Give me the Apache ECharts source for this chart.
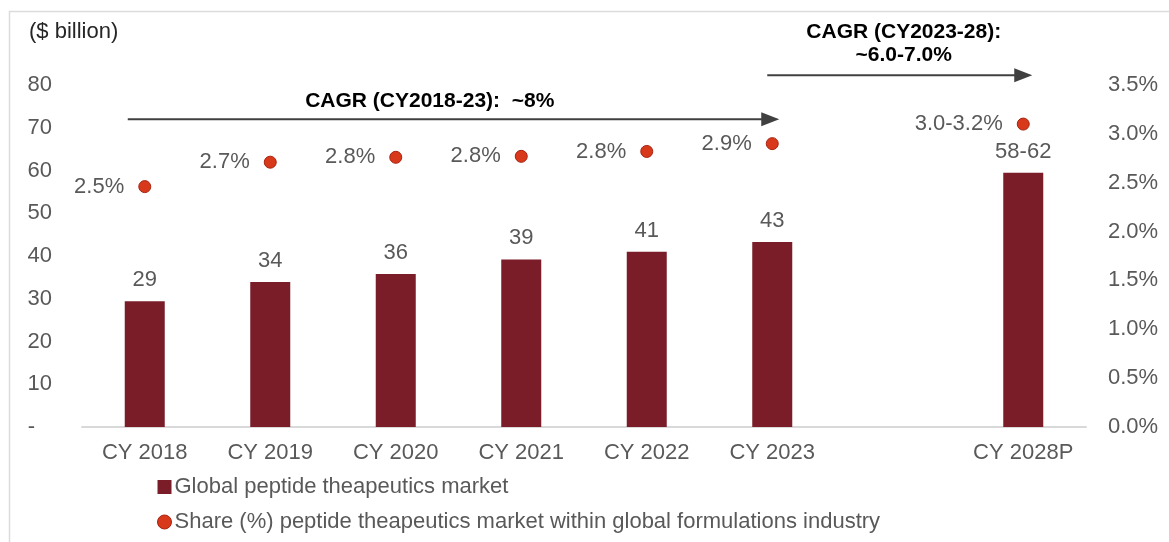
<!DOCTYPE html>
<html>
<head>
<meta charset="utf-8">
<script src="https://cdn.jsdelivr.net/npm/echarts@6/dist/echarts.min.js"></script>
<style>
  html, body { margin: 0; padding: 0; background: #ffffff; }
  #chart { width: 1169px; height: 542px; }
</style>
</head>
<body>
<div id="chart"></div>
<script>
// Calendar years; the blank slot separates actuals from the projection
const categories = ['CY 2018', 'CY 2019', 'CY 2020', 'CY 2021', 'CY 2022', 'CY 2023', '', 'CY 2028P'];

// Global peptide therapeutics market, $ billion
const marketValues = [29.4, 33.9, 35.8, 39.2, 41.0, 43.3, null, 59.5];

// Share (%) of the peptide market within the global formulations industry
const shareValues = [2.46, 2.71, 2.76, 2.77, 2.82, 2.90, null, 3.1];

// Projection year is labelled with ranges
const projectedIndex = 7;
const projectedMarketLabel = '58-62';
const projectedShareLabel = '3.0-3.2%';

// Axis ranges
const leftAxisMax = 80, leftAxisStep = 10;
const rightAxisMax = 3.5, rightAxisStep = 0.5;

// CAGR annotations
const cagrHistText = 'CAGR (CY2018-23):  ~8%';
const cagrProjText = 'CAGR (CY2023-28):\n~6.0-7.0%';

const FONT = '"Liberation Sans", Arial, sans-serif';
const BAR = '#7a1d29';
const DOT = '#d8391a';
const DOT_EDGE = '#a8220f';
const GREY_TEXT = '#595959';
const ARROW = '#404040';

const chart = echarts.init(document.getElementById('chart'), null, { renderer: 'canvas' });

const option = {
  animation: false,
  backgroundColor: '#ffffff',
  textStyle: { fontFamily: FONT },
  grid: { left: 82, right: 83, top: 85, bottom: 115, containLabel: false },
  legend: {
    orient: 'vertical',
    left: 152,
    top: 471,
    itemWidth: 14,
    itemHeight: 14,
    itemGap: 13,
    textStyle: { fontFamily: FONT, fontSize: 22, color: GREY_TEXT, padding: [0, 0, 0, -2] },
    data: [
      { name: 'Global peptide theapeutics market', icon: 'rect' },
      { name: 'Share (%) peptide theapeutics market within global formulations industry', icon: 'circle',
        itemStyle: { color: DOT, borderColor: DOT_EDGE, borderWidth: 1 } }
    ]
  },
  xAxis: {
    type: 'category',
    data: categories,
    axisLine: { lineStyle: { color: '#d9d9d9', width: 2 } },
    axisTick: { show: false },
    axisLabel: { color: GREY_TEXT, fontSize: 22, fontFamily: FONT, margin: 15, interval: 0 }
  },
  yAxis: [
    {
      type: 'value',
      min: 0, max: leftAxisMax, interval: leftAxisStep,
      name: '($ billion)',
      nameLocation: 'end',
      nameGap: 0,
      nameTextStyle: { color: '#262626', fontSize: 22, fontFamily: FONT, align: 'left', padding: [0, 0, 42, -53] },
      axisLine: { show: false },
      axisTick: { show: false },
      splitLine: { show: false },
      axisLabel: {
        color: GREY_TEXT, fontSize: 22, fontFamily: FONT, margin: 30,
        formatter: v => v === 0 ? '{d|-}' : String(v),
        rich: { d: { color: GREY_TEXT, fontSize: 22, fontFamily: FONT, padding: [0, 17, 0, 0] } }
      }
    },
    {
      type: 'value',
      min: 0, max: rightAxisMax, interval: rightAxisStep,
      position: 'right',
      axisLine: { show: false },
      axisTick: { show: false },
      splitLine: { show: false },
      axisLabel: {
        color: GREY_TEXT, fontSize: 22, fontFamily: FONT, margin: 22,
        formatter: v => v.toFixed(1) + '%'
      }
    }
  ],
  series: [
    {
      name: 'Global peptide theapeutics market',
      type: 'bar',
      yAxisIndex: 0,
      barWidth: 40,
      data: marketValues.map(v => v === null ? '-' : v),
      itemStyle: { color: BAR },
      label: {
        show: true,
        position: 'top',
        distance: 10,
        color: GREY_TEXT,
        fontSize: 22,
        fontFamily: FONT,
        formatter: p => p.dataIndex === projectedIndex ? projectedMarketLabel : String(Math.round(p.value))
      }
    },
    {
      name: 'Share (%) peptide theapeutics market within global formulations industry',
      type: 'scatter',
      yAxisIndex: 1,
      symbol: 'circle',
      symbolSize: 12,
      data: shareValues.map(v => v === null ? '-' : v),
      itemStyle: { color: DOT, borderColor: DOT_EDGE, borderWidth: 1, opacity: 1 },
      label: {
        show: true,
        position: 'left',
        distance: 14,
        color: GREY_TEXT,
        fontSize: 22,
        fontFamily: FONT,
        formatter: p => p.dataIndex === projectedIndex ? projectedShareLabel : Number(p.value).toFixed(1) + '%'
      }
    }
  ]
};

chart.setOption(option);

// Arrows anchored to category centres and left-axis values
function toPx(idx, val) {
  return chart.convertToPixel({ seriesIndex: 0 }, [idx, val]);
}

function arrow(x1, x2, y) {
  return [
    { type: 'line', silent: true,
      shape: { x1: x1, y1: y, x2: x2 - 14, y2: y },
      style: { stroke: ARROW, lineWidth: 2 } },
    { type: 'polygon', silent: true,
      shape: { points: [[x2 - 18, y - 7], [x2, y], [x2 - 18, y + 7]] },
      style: { fill: ARROW } }
  ];
}

const h0 = toPx(0, 72), h5 = toPx(5, 72);
const histStart = h0[0] - 17, histEnd = h5[0] + 7, histY = h0[1];

const p5 = toPx(5, 82.3), p7 = toPx(7, 82.3);
const projStart = p5[0] - 5, projEnd = p7[0] + 9, projY = p5[1];

const graphics = [
  // thin frame around the exhibit
  { type: 'rect', silent: true, z: -1,
    shape: { x: 9.5, y: 11.5, width: 1200, height: 600 },
    style: { fill: null, stroke: '#dcdcdc', lineWidth: 1.5 } },
  ...arrow(histStart, histEnd, histY),
  ...arrow(projStart, projEnd, projY),
  { type: 'text', silent: true,
    x: histStart + 302, y: histY - 18,
    style: { text: cagrHistText, font: 'bold 21px ' + FONT, fill: '#000000',
             align: 'center', verticalAlign: 'middle' } },
  { type: 'text', silent: true,
    x: (projStart + projEnd) / 2 + 4, y: projY - 31,
    style: { text: cagrProjText, font: 'bold 21px ' + FONT, fill: '#000000',
             align: 'center', verticalAlign: 'middle', lineHeight: 23 } }
];

chart.setOption({ graphic: graphics });
</script>
</body>
</html>
